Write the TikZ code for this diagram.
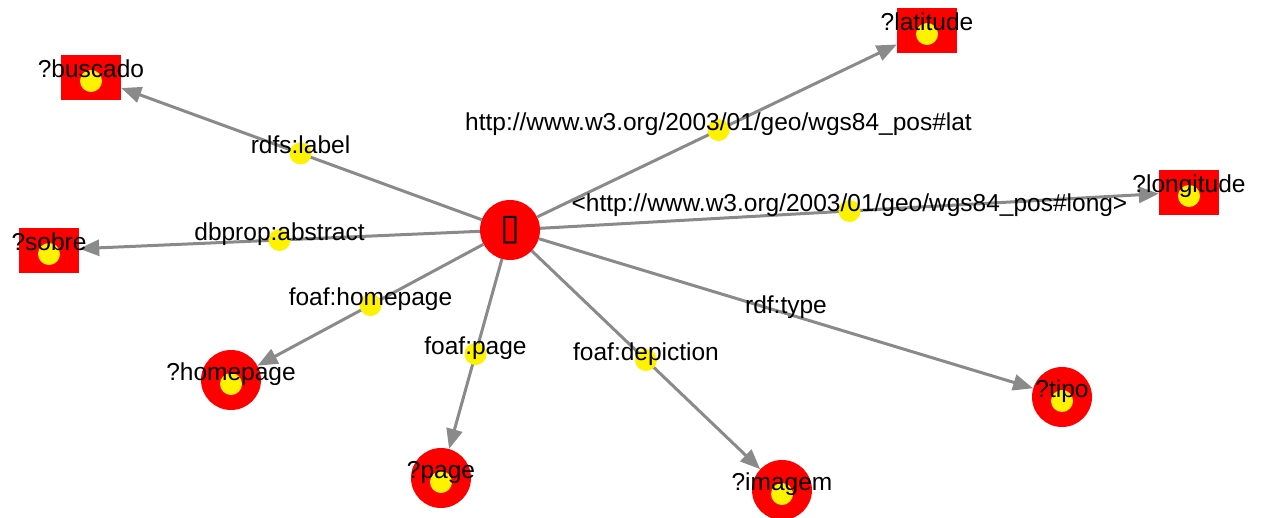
\documentclass[tikz,border=0pt]{standalone}
\usepackage{fontspec}
\setmainfont{Liberation Sans}
\newfontfamily\symfont{DejaVu Sans}
\usetikzlibrary{arrows.meta,calc}
\definecolor{linkgray}{RGB}{138,138,138}
\tikzset{
  varbox/.style={rectangle,fill=red,minimum width=60pt,minimum height=45pt,inner sep=0pt,
    path picture={\fill[yellow] ([yshift=-4pt]path picture bounding box.center) circle (11pt);}},
  varcirc/.style={circle,fill=red,minimum size=60pt,inner sep=0pt,
    path picture={\fill[yellow] ([yshift=-4pt]path picture bounding box.center) circle (11pt);}},
  link/.style={draw=linkgray,line width=3pt,-{Triangle[length=20pt,width=16pt]}},
  txt/.style={anchor=base,inner sep=0pt,font=\fontsize{24.5}{28}\selectfont}
}

\begin{document}
\begin{tikzpicture}[x=1pt,y=-1pt]
\useasboundingbox (0,0) rectangle (1261,517);
\draw (510,230) node[circle,fill=red,minimum size=60pt,inner sep=0pt,font=\symfont\fontsize{36}{38}\selectfont] (ctr) {\raisebox{4pt}{▯}};
\draw (91,77) node[varbox] (buscado) {};
\draw (927,30) node[varbox] (latitude) {};
\draw (49,250) node[varbox] (sobre) {};
\draw (1189,192) node[varbox] (longitude) {};
\draw (231,380) node[varcirc] (homepage) {};
\draw (441,478) node[varcirc] (page) {};
\draw (782,490) node[varcirc] (imagem) {};
\draw (1062,397) node[varcirc] (tipo) {};
\path[->] (ctr) edge [link] (buscado);
\path[->] (ctr) edge [link] (latitude);
\path[->] (ctr) edge [link] (sobre);
\path[->] (ctr) edge [link] (longitude);
\path[->] (ctr) edge [link] (homepage);
\path[->] (ctr) edge [link] (page);
\path[->] (ctr) edge [link] (imagem);
\path[->] (ctr) edge [link] (tipo);
% yellow marks half way
\fill[yellow] ($(ctr)!0.5!(buscado)$) circle (11pt);
\fill[yellow] ($(ctr)!0.5!(latitude)$) circle (11pt);
\fill[yellow] ($(ctr)!0.5!(sobre)$) circle (11pt);
\fill[yellow] ($(ctr)!0.5!(longitude)$) circle (11pt);
\fill[yellow] ($(ctr)!0.5!(homepage)$) circle (11pt);
\fill[yellow] ($(ctr)!0.5!(page)$) circle (11pt);
\fill[yellow] ($(ctr)!0.5!(imagem)$) circle (11pt);
\draw ($(ctr)!0.5!(buscado)$) node[txt] (rlabel) {rdfs:label};
\draw ($(ctr)!0.5!(latitude)$) node[txt] (rlat) {http://www.w3.org/2003/01/geo/wgs84\_pos\#lat};
\draw ($(ctr)!0.5!(sobre)$) node[txt] (rabstract) {dbprop:abstract};
\draw ($(ctr)!0.5!(longitude)$) node[txt] (rlong) {<http://www.w3.org/2003/01/geo/wgs84\_pos\#long>};
\draw ($(ctr)!0.5!(homepage)$) node[txt] (rhomepage) {foaf:homepage};
\draw ($(ctr)!0.5!(page)$) node[txt] (rpage) {foaf:page};
\draw ($(ctr)!0.5!(imagem)$) node[txt] (rdepiction) {foaf:depiction};
\draw ($(ctr)!0.5!(tipo)$) node[txt] (rtype) {rdf:type};
% variable names
\draw (buscado.center) node[txt] (tbuscado) {?buscado};
\draw (latitude.center) node[txt] (tlatitude) {?latitude};
\draw (sobre.center) node[txt] (tsobre) {?sobre};
\draw (longitude.center) node[txt] (tlongitude) {?longitude};
\draw (homepage.center) node[txt] (thomepage) {?homepage};
\draw (page.center) node[txt] (tpage) {?page};
\draw (imagem.center) node[txt] (timagem) {?imagem};
\draw (tipo.center) node[txt] (ttipo) {?tipo};
\end{tikzpicture}
\end{document}
